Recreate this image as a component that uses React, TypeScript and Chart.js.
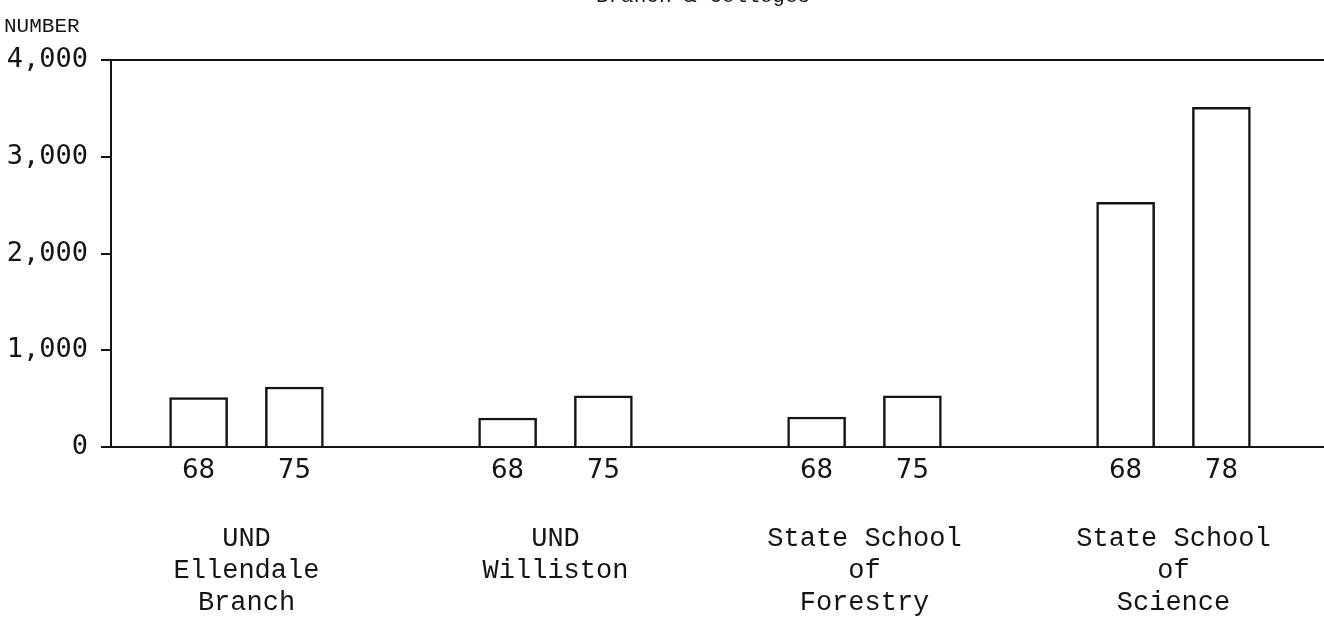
import React, { useEffect, useRef } from "react";
import { Chart, registerables } from "chart.js";

Chart.register(...registerables);

// ---- data ----
const categoryLines: string[][] = [
  ["UND", "Ellendale", "Branch"],
  ["UND", "Williston"],
  ["State School", "of", "Forestry"],
  ["State School", "of", "Science"],
];
const firstYearLabels = ["68", "68", "68", "68"];
const secondYearLabels = ["75", "75", "75", "78"];
const firstYearValues = [510, 300, 310, 2530];
const secondYearValues = [620, 530, 530, 3510];
const yTickValues = [0, 1000, 2000, 3000, 4000];
const titleText = "Branch & Colleges";
const yAxisTitle = "NUMBER";

const BAR_OFFSET = 0.155; // half distance between the two bars of a group, in group units
const X_MIN = -0.4385;
const X_MAX = 3.487;
const INK = "#141414";

export default function App() {
  const canvasRef = useRef<HTMLCanvasElement | null>(null);

  useEffect(() => {
    const canvas = canvasRef.current;
    if (!canvas) return;

    const firstX = categoryLines.map((_, i) => i - BAR_OFFSET);
    const secondX = categoryLines.map((_, i) => i + BAR_OFFSET);
    const yearTickPositions: number[] = [];
    const yearTickLabels: string[] = [];
    categoryLines.forEach((_, i) => {
      yearTickPositions.push(firstX[i], secondX[i]);
      yearTickLabels.push(firstYearLabels[i], secondYearLabels[i]);
    });

    const textPlugin = {
      id: "texts",
      afterDraw(chart: any) {
        const ctx = chart.ctx;
        ctx.save();
        ctx.fillStyle = INK;
        ctx.font = '21px "Liberation Mono"';
        ctx.textAlign = "center";
        ctx.textBaseline = "alphabetic";
        ctx.fillText(titleText, 703, 2);
        ctx.textAlign = "left";
        ctx.font = '21px "Liberation Mono"';
        ctx.fillText(yAxisTitle, 4, 32);
        ctx.restore();
      },
    };

    const chart = new Chart(canvas, {
      type: "bar",
      data: {
        datasets: [
          {
            label: "first",
            data: firstX.map((x, i) => ({ x, y: firstYearValues[i] })),
            backgroundColor: "#ffffff",
            borderColor: INK,
            borderWidth: 2.5,
            borderSkipped: "bottom",
            barThickness: 58,
          },
          {
            label: "second",
            data: secondX.map((x, i) => ({ x, y: secondYearValues[i] })),
            backgroundColor: "#ffffff",
            borderColor: INK,
            borderWidth: 2.5,
            borderSkipped: "bottom",
            barThickness: 58,
          },
        ] as any,
      },
      plugins: [textPlugin],
      options: {
        animation: false,
        responsive: true,
        maintainAspectRatio: false,
        layout: { padding: { top: 60, left: 0, right: 0, bottom: 0 } },
        plugins: {
          legend: { display: false },
          tooltip: { enabled: false },
          title: { display: false },
        },
        datasets: { bar: { grouped: false } } as any,
        scales: {
          x: {
            type: "linear",
            position: "bottom",
            weight: 0,
            offset: false,
            min: X_MIN,
            max: X_MAX,
            afterBuildTicks: (scale: any) => {
              scale.ticks = yearTickPositions.map((v) => ({ value: v }));
            },
            afterFit: (scale: any) => {
              scale.height = 60;
            },
            grid: { display: true, color: "rgba(0,0,0,0)", drawTicks: false, drawOnChartArea: false, offset: false },
            border: { display: true, color: INK, width: 2 },
            ticks: {
              autoSkip: false,
              maxRotation: 0,
              padding: 9,
              color: INK,
              font: { family: '"DejaVu Sans"', size: 26 },
              callback: (_v: any, index: number) => yearTickLabels[index],
            },
          },
          x2: {
            type: "linear",
            position: "bottom",
            weight: 1,
            offset: false,
            min: X_MIN,
            max: X_MAX,
            afterBuildTicks: (scale: any) => {
              scale.ticks = categoryLines.map((_, i) => ({ value: i }));
            },
            afterFit: (scale: any) => {
              scale.height = 115;
            },
            grid: { display: false, drawTicks: false, offset: false },
            border: { display: false },
            ticks: {
              autoSkip: false,
              maxRotation: 0,
              padding: 16,
              color: INK,
              font: { family: '"Liberation Mono"', size: 27, lineHeight: 32 / 27 },
              callback: (_v: any, index: number) => categoryLines[index],
            },
          },
          y: {
            type: "linear",
            position: "left",
            min: 0,
            max: 4000,
            afterBuildTicks: (scale: any) => {
              scale.ticks = yTickValues.map((v) => ({ value: v }));
            },
            afterFit: (scale: any) => {
              scale.width = 111;
            },
            grid: {
              display: true,
              drawOnChartArea: true,
              drawTicks: true,
              tickLength: 10,
              tickColor: INK,
              lineWidth: 2,
              color: (ctx: any) =>
                ctx.tick && (ctx.tick.value === 4000 || ctx.tick.value === 0) ? INK : "rgba(0,0,0,0)",
            },
            border: { display: true, color: INK, width: 2 },
            ticks: {
              padding: 13,
              color: INK,
              font: { family: '"DejaVu Sans Mono"', size: 27 },
              callback: (v: any) => Number(v).toLocaleString("en-US"),
            },
          },
        },
      },
    });

    return () => {
      chart.destroy();
    };
  }, []);

  return (
    <div
      style={{
        position: "fixed",
        left: 0,
        top: 0,
        width: 1324,
        height: 622,
        background: "#ffffff",
      }}
    >
      <canvas ref={canvasRef} />
    </div>
  );
}
